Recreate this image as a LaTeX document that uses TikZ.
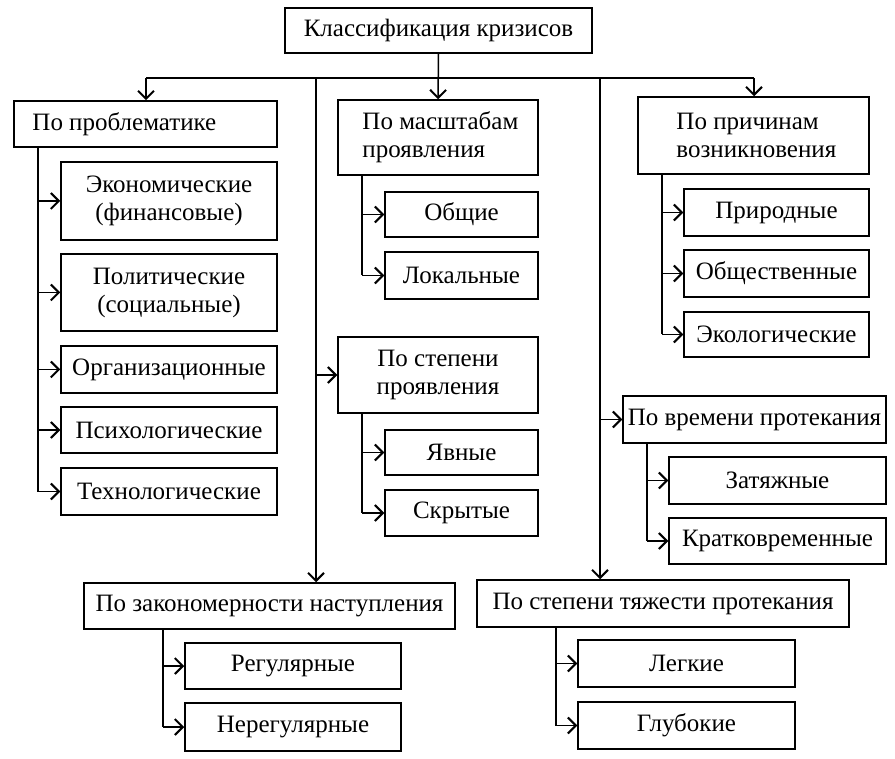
\documentclass[tikz,border=0pt]{standalone}
\usepackage{fontspec}
\setmainfont{Liberation Serif}
\usetikzlibrary{arrows.meta}
\newcommand\bx[7][]{\node[box,minimum width={(#5-#3)*1pt},minimum height={(#6-#4)*1pt},#1] (#2) at ({(#3+#5)/2},{(#4+#6)/2}) {#7};}
\begin{document}
\begin{tikzpicture}[x=1pt,y=-1pt,
  box/.style={draw,line width=1.5pt,inner sep=0pt,align=center,font=\fontsize{25}{28}\selectfont},
  lbl/.style={inner sep=0pt,align=left,anchor=west,font=\fontsize{25}{28}\selectfont},
  conn/.style={line width=1.5pt},
  arr/.style={line width=1.5pt,-{Straight Barb[length=8pt,width=16pt,line width=2pt]}}]
\useasboundingbox[fill=white] (0,0) rectangle (895,759);
% boxes
\bx{title}{285}{8}{592}{53}{Классификация кризисов}
\bx{prob}{14}{101}{277}{147}{}
\node[lbl] (probT) at ([xshift=19pt]prob.west) {По проблематике};
\bx{eco}{61}{162}{277}{240}{Экономические\\(финансовые)}
\bx{pol}{61}{254}{277}{331}{Политические\\(социальные)}
\bx{org}{61}{346}{277}{393}{Организационные}
\bx{psy}{61}{407}{277}{453}{Психологические}
\bx{tech}{61}{468}{277}{515}{Технологические}
\bx{mas}{338}{100}{538}{175}{}
\node[lbl] (masT) at ([xshift=25pt]mas.west) {По масштабам\\проявления};
\bx{obsh}{385}{192}{538}{237}{Общие}
\bx{lok}{385}{252}{538}{299}{Локальные}
\bx{step}{338}{337}{538}{413}{По степени\\проявления}
\bx{yav}{385}{430}{538}{475}{Явные}
\bx{skr}{385}{490}{538}{536}{Скрытые}
\bx{prich}{638}{97}{869}{174}{}
\node[lbl] (prichT) at ([xshift=39pt]prich.west) {По причинам\\возникновения};
\bx{prir}{684}{189}{869}{236}{Природные}
\bx{obshest}{684}{250}{869}{297}{Общественные}
\bx{eko}{684}{312}{869}{357}{Экологические}
\bx{vrem}{623}{396}{886}{443}{По времени протекания}
\bx{zat}{669}{457}{886}{504}{Затяжные}
\bx{krat}{669}{518}{886}{564}{Кратковременные}
\bx{zak}{84}{583}{455}{629}{По закономерности наступления}
\bx{reg}{185}{643}{401}{689}{Регулярные}
\bx{nereg}{185}{703}{401}{751}{Нерегулярные}
\bx{tyazh}{477}{580}{849}{627}{По степени тяжести протекания}
\bx{leg}{578}{640}{795}{687}{Легкие}
\bx{glub}{578}{702}{795}{749}{Глубокие}
% bus
\coordinate (bL) at (146,78);
\coordinate (bR) at (754,78);
\coordinate (c1) at (316,78);
\coordinate (c2) at (600,78);
\draw[conn] (bL) -- (bR);
\draw[arr] (title.south) -- (mas.north);
\draw[arr] (bL) -- (bL |- prob.north);
\draw[arr] (bR) -- (bR |- prich.north);
\draw[arr] (c1) -- (c1 |- zak.north);
\draw[arr] (c2) -- (c2 |- tyazh.north);
\draw[arr] (c1 |- step.west) -- (step.west);
\draw[arr] (c2 |- vrem.west) -- (vrem.west);
% trunks
\coordinate (tp) at (38,0);
\draw[conn] (tp |- prob.south) -- (tp |- tech.west);
\foreach \n in {eco,pol,org,psy,tech} \draw[arr] (tp |- \n.west) -- (\n.west);
\coordinate (tm) at (362,0);
\draw[conn] (tm |- mas.south) -- (tm |- lok.west);
\foreach \n in {obsh,lok} \draw[arr] (tm |- \n.west) -- (\n.west);
\draw[conn] (tm |- step.south) -- (tm |- skr.west);
\foreach \n in {yav,skr} \draw[arr] (tm |- \n.west) -- (\n.west);
\coordinate (tr) at (662,0);
\draw[conn] (tr |- prich.south) -- (tr |- eko.west);
\foreach \n in {prir,obshest,eko} \draw[arr] (tr |- \n.west) -- (\n.west);
\coordinate (tv) at (647,0);
\draw[conn] (tv |- vrem.south) -- (tv |- krat.west);
\foreach \n in {zat,krat} \draw[arr] (tv |- \n.west) -- (\n.west);
\coordinate (tz) at (163,0);
\draw[conn] (tz |- zak.south) -- (tz |- nereg.west);
\foreach \n in {reg,nereg} \draw[arr] (tz |- \n.west) -- (\n.west);
\coordinate (tt) at (556,0);
\draw[conn] (tt |- tyazh.south) -- (tt |- glub.west);
\foreach \n in {leg,glub} \draw[arr] (tt |- \n.west) -- (\n.west);
\end{tikzpicture}
\end{document}
